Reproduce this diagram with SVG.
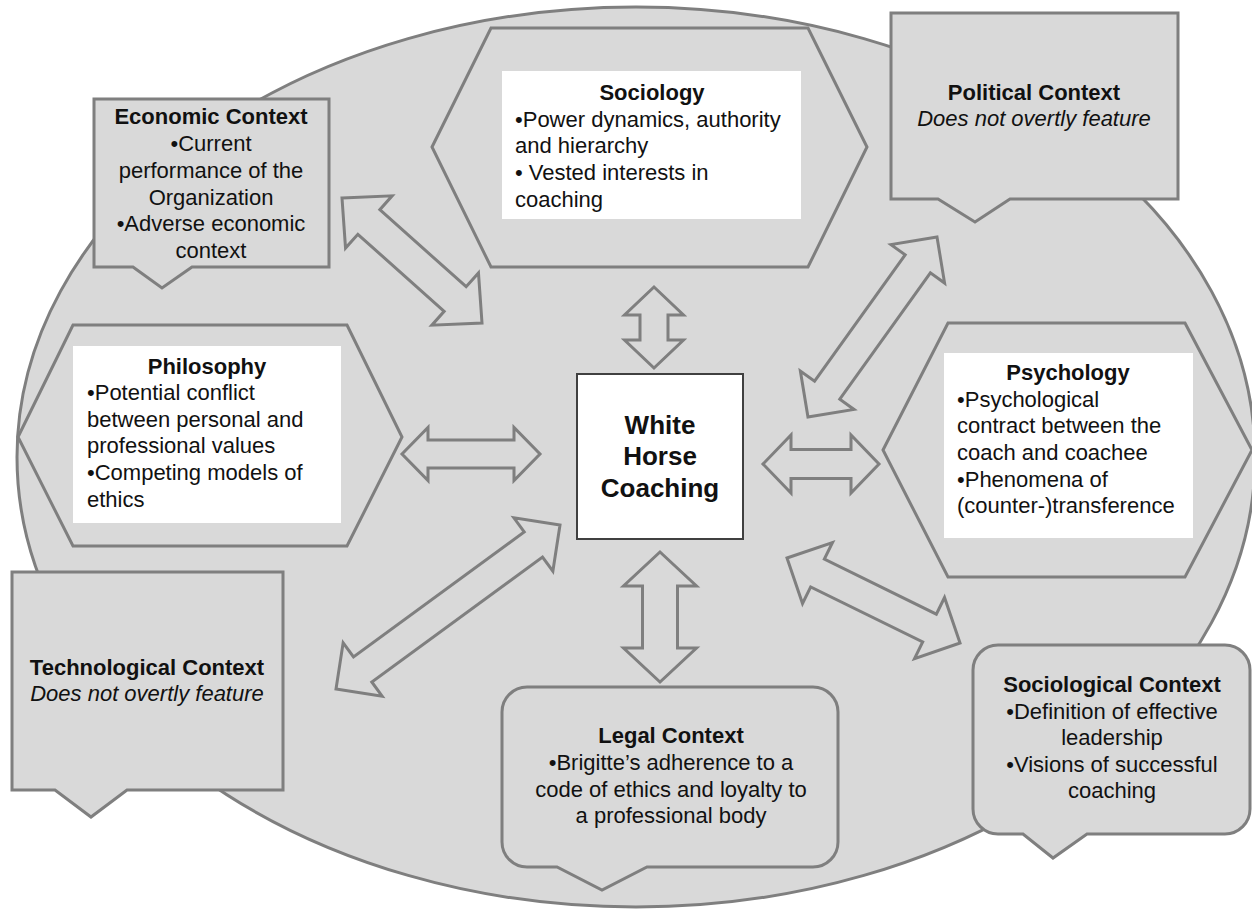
<svg xmlns="http://www.w3.org/2000/svg" width="1252" height="913" viewBox="0 0 1252 913">
<style>
.shape{fill:#d9d9d9;stroke:#7f7f7f;stroke-width:3;stroke-linejoin:miter}
.panel{fill:#ffffff;stroke:none}
.arrow{fill:#d9d9d9;stroke:#7f7f7f;stroke-width:3;stroke-linejoin:miter}
.t{font-family:"Liberation Sans",Arial,Helvetica,sans-serif;font-size:22px;fill:#111111}
.b{font-weight:bold}
.i{font-style:italic}
.c{text-anchor:middle}
</style>
<rect width="1252" height="913" fill="#ffffff"/>
<ellipse id="background" cx="636" cy="457" rx="619" ry="450" class="shape"/>

<g id="sociology">
<polygon class="shape" points="432,147 491,28 808,28 867,147 808,267 491,267"/>
<rect class="panel" x="502" y="71" width="299" height="148"/>
<text class="t b c" x="652" y="100">Sociology</text>
<text class="t" x="515" y="127">•Power dynamics, authority</text>
<text class="t" x="515" y="153">and hierarchy</text>
<text class="t" x="515" y="180">• Vested interests in</text>
<text class="t" x="515" y="207">coaching</text>
</g>

<g id="philosophy">
<polygon class="shape" points="18,437 73,325 347,325 402,437 347,546 73,546"/>
<rect class="panel" x="73" y="346" width="268" height="177"/>
<text class="t b c" x="207" y="374">Philosophy</text>
<text class="t" x="87" y="400">•Potential conflict</text>
<text class="t" x="87" y="427">between personal and</text>
<text class="t" x="87" y="453">professional values</text>
<text class="t" x="87" y="480">•Competing models of</text>
<text class="t" x="87" y="507">ethics</text>
</g>

<g id="psychology">
<polygon class="shape" points="883,450 948,323 1185,323 1252,450 1185,577 948,577"/>
<rect class="panel" x="944" y="353" width="249" height="185"/>
<text class="t b c" x="1068" y="380">Psychology</text>
<text class="t" x="957" y="407">•Psychological</text>
<text class="t" x="957" y="433">contract between the</text>
<text class="t" x="957" y="460">coach and coachee</text>
<text class="t" x="957" y="487">•Phenomena of</text>
<text class="t" x="957" y="513">(counter-)transference</text>
</g>

<g id="economic-context">
<path class="shape" d="M94,99 H329 V267 H192 L162,288 L133,267 H94 Z"/>
<text class="t b c" x="211" y="124">Economic Context</text>
<text class="t c" x="211" y="151">•Current</text>
<text class="t c" x="211" y="178">performance of the</text>
<text class="t c" x="211" y="205">Organization</text>
<text class="t c" x="211" y="231">•Adverse economic</text>
<text class="t c" x="211" y="258">context</text>
</g>

<g id="political-context">
<path class="shape" d="M891,13 H1178 V199 H1010 L975,222 L938,199 H891 Z"/>
<text class="t b c" x="1034" y="100">Political Context</text>
<text class="t i c" x="1034" y="126">Does not overtly feature</text>
</g>

<g id="technological-context">
<path class="shape" d="M12,572 H283 V790 H127 L91,817 L55,790 H12 Z"/>
<text class="t b c" x="147" y="675">Technological Context</text>
<text class="t i c" x="147" y="701">Does not overtly feature</text>
</g>

<g id="legal-context">
<path class="shape" d="M527,687 H813 A25,25 0 0 1 838,712 V842 A25,25 0 0 1 813,867 H647 L602,890 L557,867 H527 A25,25 0 0 1 502,842 V712 A25,25 0 0 1 527,687 Z"/>
<text class="t b c" x="671" y="743">Legal Context</text>
<text class="t c" x="671" y="770">•Brigitte’s adherence to a</text>
<text class="t c" x="671" y="797">code of ethics and loyalty to</text>
<text class="t c" x="671" y="823">a professional body</text>
</g>

<g id="sociological-context">
<path class="shape" d="M998,645 H1225 A25,25 0 0 1 1250,670 V809 A25,25 0 0 1 1225,834 H1087 L1053,858 L1023,834 H998 A25,25 0 0 1 973,809 V670 A25,25 0 0 1 998,645 Z"/>
<text class="t b c" x="1112" y="692">Sociological Context</text>
<text class="t c" x="1112" y="719">•Definition of effective</text>
<text class="t c" x="1112" y="745">leadership</text>
<text class="t c" x="1112" y="772">•Visions of successful</text>
<text class="t c" x="1112" y="798">coaching</text>
</g>

<g id="connectors">
<polygon class="arrow" transform="translate(342,198) rotate(41.76)" points="0,0 36,-35 36,-16.5 151.7,-16.5 151.7,-35 187.7,0 151.7,35 151.7,16.5 36,16.5 36,35"/>
<polygon class="arrow" transform="translate(654,287) rotate(90)" points="0,0 28,-29.5 28,-14 53,-14 53,-29.5 81,0 53,29.5 53,14 28,14 28,29.5"/>
<polygon class="arrow" transform="translate(937,237) rotate(125.63)" points="0,0 33,-33 33,-15.5 188.5,-15.5 188.5,-33 221.5,0 188.5,33 188.5,15.5 33,15.5 33,33"/>
<polygon class="arrow" transform="translate(402,454)" points="0,0 26,-26.5 26,-14 112,-14 112,-26.5 138,0 112,26.5 112,14 26,14 26,26.5"/>
<polygon class="arrow" transform="translate(763,464)" points="0,0 28,-29 28,-14.5 88,-14.5 88,-29 116,0 88,29 88,14.5 28,14.5 28,29"/>
<polygon class="arrow" transform="translate(560,525) rotate(143.79)" points="0,0 33,-33 33,-15.5 244.6,-15.5 244.6,-33 277.6,0 244.6,33 244.6,15.5 33,15.5 33,33"/>
<polygon class="arrow" transform="translate(660,552) rotate(90)" points="0,0 34,-36.5 34,-17.5 96,-17.5 96,-36.5 130,0 96,36.5 96,17.5 34,17.5 34,36.5"/>
<polygon class="arrow" transform="translate(787,558) rotate(26.17)" points="0,0 34,-34 34,-15.5 158.8,-15.5 158.8,-34 192.8,0 158.8,34 158.8,15.5 34,15.5 34,34"/>
</g>

<g id="white-horse-coaching">
<rect x="577" y="374" width="166" height="165" fill="#ffffff" stroke="#404040" stroke-width="2"/>
<text class="t b c" style="font-size:26px" x="660" y="434">White</text>
<text class="t b c" style="font-size:26px" x="660" y="465">Horse</text>
<text class="t b c" style="font-size:26px" x="660" y="497">Coaching</text>
</g>
</svg>
